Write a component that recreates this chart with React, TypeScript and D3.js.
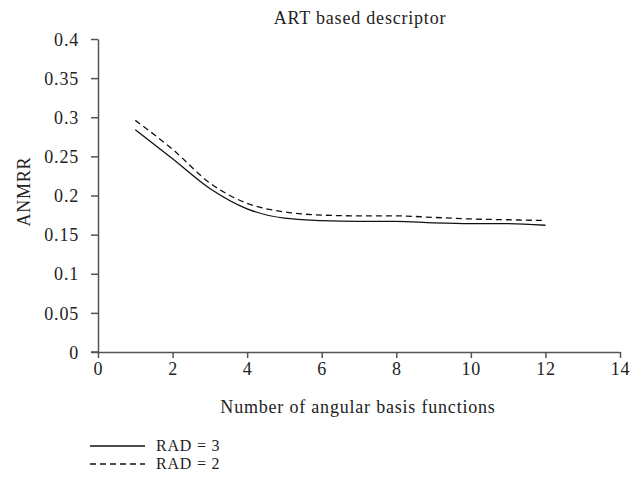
import React, { useEffect, useRef } from 'react';
import * as d3 from 'd3';

const xs = [1, 2, 3, 4, 5, 6, 7, 8, 9, 10, 11, 12];
const rad3 = [0.284, 0.247, 0.209, 0.183, 0.171, 0.168, 0.167, 0.167, 0.165, 0.164, 0.164, 0.162];
const rad2 = [0.296, 0.259, 0.216, 0.19, 0.179, 0.175, 0.174, 0.174, 0.172, 0.17, 0.169, 0.168];
const xTicks = [0, 2, 4, 6, 8, 10, 12, 14];
const yTicks = [0, 0.05, 0.1, 0.15, 0.2, 0.25, 0.3, 0.35, 0.4];
const seriesNames = ['RAD = 3', 'RAD = 2'];

const W = 639;
const H = 480;
const FONT = '"Liberation Serif", "DejaVu Serif", serif';
const FS = 18;
const LS = 0.8;

const App = () => {
  const svgRef = useRef<SVGSVGElement | null>(null);

  useEffect(() => {
    if (!svgRef.current) return;
    const svg = d3.select(svgRef.current);
    svg.selectAll('*').remove();

    const x = d3.scaleLinear().domain([0, 14]).range([98, 620]);
    const y = d3.scaleLinear().domain([0, 0.4]).range([352, 39]);
    const axisColor = '#555';

    // axes
    const gx = svg.append('g').attr('transform', `translate(0,${y(0)})`)
      .call(d3.axisBottom(x).tickValues(xTicks).tickSize(6).tickSizeOuter(0).tickFormat(d3.format('d')));
    const gy = svg.append('g').attr('transform', `translate(${x(0)},0)`)
      .call(d3.axisLeft(y).tickValues(yTicks).tickSize(7).tickSizeOuter(0).tickFormat(d => String(+d)));

    [gx, gy].forEach(g => {
      g.select('.domain').attr('stroke', axisColor).attr('stroke-width', 1.5);
      g.selectAll('.tick line').attr('stroke', axisColor).attr('stroke-width', 1.5);
      g.selectAll('.tick text').attr('fill', '#222').attr('font-size', FS).attr('font-family', FONT)
        .attr('letter-spacing', LS);
    });
    gx.selectAll('.tick text').attr('y', 23).attr('dy', 0);
    gy.selectAll('.tick text').attr('x', -19).attr('dy', '0.34em');
    // extend x axis line slightly left of origin
    svg.append('line').attr('x1', x(0) - 7).attr('x2', x(0)).attr('y1', y(0)).attr('y2', y(0))
      .attr('stroke', axisColor).attr('stroke-width', 1.5);

    const line = d3.line<number>()
      .x((_, i) => x(xs[i]))
      .y(d => y(d))
      .curve(d3.curveMonotoneX);

    svg.append('path').datum(rad3).attr('d', line).attr('fill', 'none')
      .attr('stroke', '#111').attr('stroke-width', 1.3);
    svg.append('path').datum(rad2).attr('d', line).attr('fill', 'none')
      .attr('stroke', '#111').attr('stroke-width', 1.3).attr('stroke-dasharray', '6,4');

    const label = (sel: d3.Selection<SVGTextElement, unknown, null, undefined>, fs = FS) =>
      sel.attr('font-family', FONT).attr('font-size', fs).attr('fill', '#222').attr('letter-spacing', LS);

    // title & labels
    svg.append('text').attr('x', 360).attr('y', 24).attr('text-anchor', 'middle')
      .call(label).text('ART based descriptor');
    svg.append('text').attr('x', 358).attr('y', 413).attr('text-anchor', 'middle')
      .call(label).text('Number of angular basis functions');
    svg.append('text').attr('transform', `translate(30,${y(0.205)}) rotate(-90)`).attr('text-anchor', 'middle')
      .call(label).text('ANMRR');

    // legend
    const lg = svg.append('g');
    seriesNames.forEach((name, i) => {
      const ly = 446 + i * 18;
      lg.append('line').attr('x1', 90).attr('x2', 145).attr('y1', ly).attr('y2', ly)
        .attr('stroke', '#111').attr('stroke-width', 1.3)
        .attr('stroke-dasharray', i === 1 ? '6,4' : null);
      lg.append('text').attr('x', 156).attr('y', ly + 5).call(label, 16).text(name);
    });
  }, []);

  return (
    <svg ref={svgRef} width={W} height={H} viewBox={`0 0 ${W} ${H}`}
      style={{ position: 'absolute', left: 0, top: 0, background: '#fff' }} />
  );
};

export default App;
